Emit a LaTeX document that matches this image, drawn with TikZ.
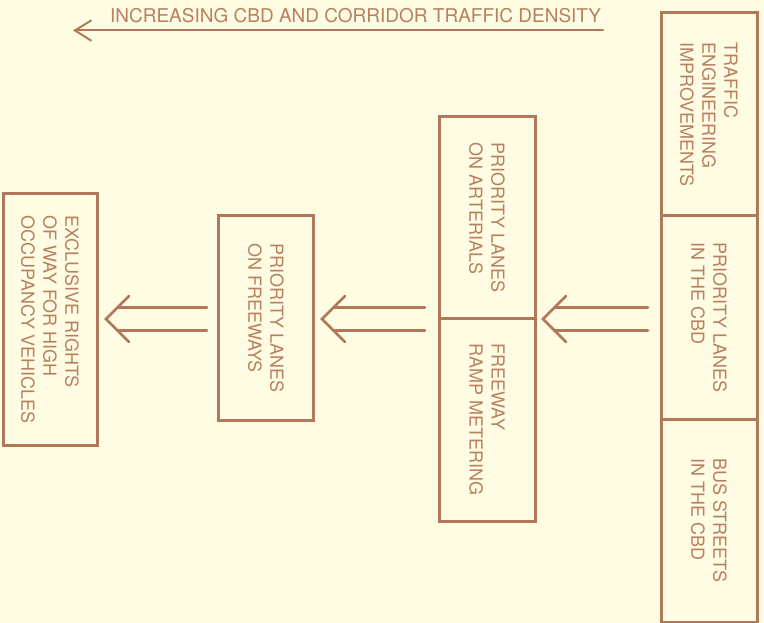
\documentclass[tikz,border=0pt]{standalone}
\usepackage{fontspec}
\setmainfont{TeX Gyre Heros}
\usetikzlibrary{calc}
\definecolor{bg}{RGB}{254,252,226}
\definecolor{ink}{RGB}{176,120,88}
\definecolor{txt}{RGB}{184,128,96}
\newcommand\dblarrow[2]{%
  \draw[arr] ($(#1)+(23,-23)$) -- (#1) -- ($(#1)+(23,23)$);
  \draw[arr] ($(#1)+(11.5,-11.5)$) -- ($(#2)+(0,-11.5)$);
  \draw[arr] ($(#1)+(11.5,11.5)$) -- ($(#2)+(0,11.5)$);
}
\begin{document}
\begin{tikzpicture}[x=1pt,y=-1pt,
  box/.style={draw=ink, line width=3pt, inner sep=0pt, outer sep=0pt},
  lbl/.style={rotate=-90, align=left, text=txt, inner sep=0pt,
    font=\fontsize{18}{22}\selectfont},
  arr/.style={draw=ink, line width=2.5pt, line cap=round, line join=miter},
  toparr/.style={draw=ink, line width=2pt, line cap=round}]
\fill[bg] (0,0) rectangle (764,623);
\useasboundingbox (0,0) rectangle (764,623);

% right column
\node[box, minimum width=96pt, minimum height=203pt] (r1) at (709,114.5) {};
\node[box, minimum width=96pt, minimum height=203pt] (r2) at (709,317.5) {};
\node[box, minimum width=96pt, minimum height=203pt] (r3) at (709,520.5) {};
\node[lbl] (r1t) at (r1.center) {TRAFFIC\\ENGINEERING\\IMPROVEMENTS};
\node[lbl] (r2t) at (r2.center) {PRIORITY LANES\\IN THE CBD};
\node[lbl] (r3t) at (r3.center) {BUS STREETS\\IN THE CBD};

% arterials / ramp metering
\node[box, minimum width=96pt, minimum height=201.5pt] (a1) at (487,217.75) {};
\node[box, minimum width=96pt, minimum height=202.5pt] (a2) at (487,419.75) {};
\node[lbl] (a1t) at (a1.center) {PRIORITY LANES\\ON ARTERIALS};
\node[lbl] (a2t) at (a2.center) {FREEWAY\\RAMP METERING};

% freeways
\node[box, minimum width=95pt, minimum height=204pt] (f) at (266,318) {};
\node[lbl] (ft) at (f.center) {PRIORITY LANES\\ON FREEWAYS};

% exclusive
\node[box, minimum width=94pt, minimum height=251pt] (e) at (50,319.5) {};
\node[lbl] (et) at (e.center) {EXCLUSIVE RIGHTS\\OF WAY FOR HIGH\\OCCUPANCY VEHICLES};

% double arrows
\coordinate (t1) at ($(a1.south east)+(8,0.5)$);
\coordinate (s1) at ($(r2.west)+(-13,1.5)$);
\coordinate (t2) at ($(f.east)+(8.5,1)$);
\coordinate (s2) at ($(a2.north west)+(-14,0.5)$);
\coordinate (t3) at ($(e.east)+(9,-0.5)$);
\coordinate (s3) at ($(f.west)+(-11.5,1)$);
\dblarrow{t1}{s1}
\dblarrow{t2}{s2}
\dblarrow{t3}{s3}

% top arrow
\node[anchor=base west, inner sep=0pt, text=txt, font=\fontsize{19}{19}\selectfont]
  (title) at (110,23) {INCREASING CBD AND CORRIDOR TRAFFIC DENSITY};
\coordinate (ta) at (75,30.5);
\coordinate (tb) at (603,30.5);
\draw[toparr] (tb) -- (ta);
\draw[toparr] ($(ta)+(16,-10)$) -- (ta) -- ($(ta)+(16,10)$);
\end{tikzpicture}
\end{document}
